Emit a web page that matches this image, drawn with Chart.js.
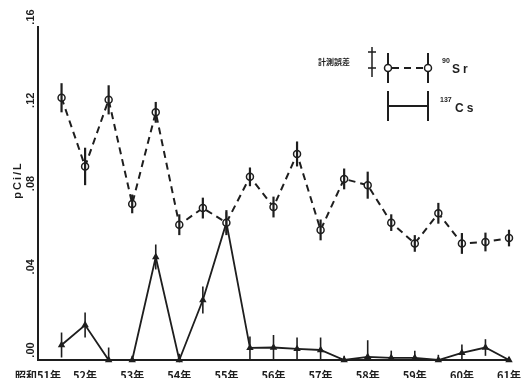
<!DOCTYPE html>
<html>
<head>
<meta charset="utf-8">
<script src="https://cdn.jsdelivr.net/npm/chart.js@4/dist/chart.umd.min.js"></script>
<style>
  html, body { margin: 0; padding: 0; background: #fff; }
</style>
</head>
<body>
<canvas id="chart" width="526" height="378"></canvas>
<script>
// year ticks (0 = 昭和51年 ... 10 = 61年) and half-year sample positions
const yearLabels = ['昭和51年', '52年', '53年', '54年', '55年', '56年', '57年', '58年', '59年', '60年', '61年'];
const halfYears = [0.5, 1, 1.5, 2, 2.5, 3, 3.5, 4, 4.5, 5, 5.5, 6, 6.5, 7, 7.5, 8, 8.5, 9, 9.5, 10];

// 90Sr  (pCi/L)
const sr90 = [0.126, 0.093, 0.125, 0.075, 0.119, 0.065, 0.073, 0.066, 0.088, 0.0735,
              0.099, 0.0625, 0.087, 0.084, 0.066, 0.056, 0.0705, 0.056, 0.0567, 0.0586];
const sr90Err = [0.007, 0.009, 0.007, 0.0045, 0.005, 0.005, 0.005, 0.006, 0.0045, 0.005,
                 0.006, 0.005, 0.005, 0.0065, 0.004, 0.004, 0.005, 0.005, 0.0045, 0.004];

// 137Cs (pCi/L)
const cs137 = [0.0072, 0.0168, 0.0, 0.0, 0.0495, 0.0, 0.0288, 0.066, 0.0058, 0.006,
               0.0053, 0.0048, 0.0, 0.0015, 0.001, 0.001, 0.0, 0.0034, 0.006, 0.0];
const cs137Err = [0.006, 0.006, 0.006, 0.002, 0.006, 0.003, 0.0065, 0.005, 0.0055, 0.006,
                  0.0055, 0.006, 0.002, 0.008, 0.0035, 0.0035, 0.0025, 0.004, 0.004, 0.0015];

const yTickValues = [0, 0.04, 0.08, 0.12, 0.16];

const ink = '#1e1e1e';
const toXY = (ys) => ys.map((v, i) => ({ x: halfYears[i], y: v }));

// vertical error bars through each point
const errorBars = {
  id: 'errorBars',
  afterDatasetsDraw(chart) {
    const ctx = chart.ctx;
    const xs = chart.scales.x, ys = chart.scales.y;
    chart.data.datasets.forEach((ds) => {
      ctx.save();
      ctx.strokeStyle = ink;
      ctx.lineWidth = ds.errWidth;
      ds.data.forEach((p, i) => {
        const e = ds.errors[i];
        const px = xs.getPixelForValue(p.x);
        const top = ys.getPixelForValue(p.y + e);
        const bot = ys.getPixelForValue(Math.max(p.y - e, 0));
        ctx.beginPath();
        ctx.moveTo(px, top);
        ctx.lineTo(px, bot);
        ctx.stroke();
      });
      ctx.restore();
    });
  }
};

// rotated y tick labels, axis title and the hand-drawn style legend
const decorations = {
  id: 'decorations',
  afterDraw(chart) {
    const ctx = chart.ctx;
    const ys = chart.scales.y;
    ctx.save();
    ctx.fillStyle = ink;
    ctx.textAlign = 'center';
    ctx.textBaseline = 'middle';
    ctx.font = 'bold 11px "Liberation Sans", Arial, sans-serif';
    ys.ticks.forEach((t) => {
      const py = ys.getPixelForValue(t.value) - 10;
      ctx.save();
      ctx.translate(31, py);
      ctx.rotate(-Math.PI / 2);
      ctx.fillText(t.value.toFixed(2).replace(/^0/, ''), 0, 0);
      ctx.restore();
    });

    // axis title
    ctx.save();
    ctx.translate(18, 180);
    ctx.rotate(-Math.PI / 2);
    ctx.letterSpacing = '2px';
    ctx.fillText('pCi/L', 0, 0);
    ctx.restore();

    // legend
    ctx.strokeStyle = ink;
    ctx.font = 'bold 8px "Noto Sans CJK JP", sans-serif';
    ctx.textAlign = 'left';
    ctx.fillText('計測誤差', 318, 62);
    ctx.lineWidth = 1.5;
    ctx.beginPath();
    ctx.moveTo(372, 47); ctx.lineTo(372, 77);
    ctx.moveTo(368, 52); ctx.lineTo(376, 52);
    ctx.moveTo(368, 68); ctx.lineTo(376, 68);
    ctx.stroke();

    // Sr entry
    ctx.lineWidth = 2;
    ctx.beginPath();
    ctx.moveTo(388, 53); ctx.lineTo(388, 83);
    ctx.moveTo(428, 53); ctx.lineTo(428, 83);
    ctx.stroke();
    ctx.setLineDash([7, 5]);
    ctx.beginPath();
    ctx.moveTo(392, 68); ctx.lineTo(424, 68);
    ctx.stroke();
    ctx.setLineDash([]);
    ctx.fillStyle = '#fff';
    ctx.lineWidth = 1.5;
    [388, 428].forEach((lx) => {
      ctx.beginPath();
      ctx.arc(lx, 68, 3.5, 0, Math.PI * 2);
      ctx.fill();
      ctx.stroke();
    });

    // Cs entry
    ctx.lineWidth = 2;
    ctx.beginPath();
    ctx.moveTo(388, 91); ctx.lineTo(388, 121);
    ctx.moveTo(428, 91); ctx.lineTo(428, 121);
    ctx.stroke();
    ctx.lineWidth = 1.8;
    ctx.beginPath();
    ctx.moveTo(388, 106); ctx.lineTo(428, 106);
    ctx.stroke();

    ctx.fillStyle = ink;
    ctx.font = 'bold 7px "Liberation Sans", Arial, sans-serif';
    ctx.fillText('90', 442, 61);
    ctx.fillText('137', 440, 100);
    ctx.font = 'bold 12px "Liberation Sans", Arial, sans-serif';
    ctx.letterSpacing = '3px';
    ctx.fillText('Sr', 452, 70);
    ctx.fillText('Cs', 455, 109);
    ctx.restore();
  }
};

new Chart(document.getElementById('chart'), {
  type: 'line',
  data: {
    datasets: [
      {
        label: '90Sr',
        data: toXY(sr90),
        errors: sr90Err,
        errWidth: 2.2,
        borderColor: ink,
        borderWidth: 2,
        borderDash: [7, 5],
        pointStyle: 'circle',
        pointRadius: 3.5,
        pointBackgroundColor: '#fff',
        pointBorderColor: ink,
        pointBorderWidth: 1.5,
        tension: 0,
        clip: 8
      },
      {
        label: '137Cs',
        data: toXY(cs137),
        errors: cs137Err,
        errWidth: 1.6,
        borderColor: ink,
        borderWidth: 1.8,
        pointStyle: 'triangle',
        pointRadius: 2.5,
        pointBackgroundColor: ink,
        pointBorderColor: ink,
        tension: 0,
        clip: 8
      }
    ]
  },
  options: {
    responsive: false,
    animation: false,
    devicePixelRatio: 1,
    layout: { padding: { top: 27, right: 17, left: 0, bottom: 0 } },
    plugins: {
      legend: { display: false },
      tooltip: { enabled: false }
    },
    scales: {
      x: {
        type: 'linear',
        min: 0,
        max: 10,
        grid: { display: false },
        border: { display: true, color: ink, width: 2 },
        afterBuildTicks: (s) => { s.ticks = yearLabels.map((_, i) => ({ value: i })); },
        afterFit: (s) => { s.height = 18; },
        ticks: {
          autoSkip: false,
          maxRotation: 0,
          padding: 1,
          color: ink,
          font: { family: '"Noto Sans CJK JP", sans-serif', size: 11, weight: 'bold' },
          callback: (v) => yearLabels[v]
        }
      },
      y: {
        min: 0,
        max: 0.16,
        grid: { display: false },
        border: { display: true, color: ink, width: 2 },
        afterBuildTicks: (s) => { s.ticks = yTickValues.map((v) => ({ value: v })); },
        afterFit: (s) => { s.width = 38; },
        ticks: { display: false }
      }
    }
  },
  plugins: [errorBars, decorations]
});
</script>
</body>
</html>
